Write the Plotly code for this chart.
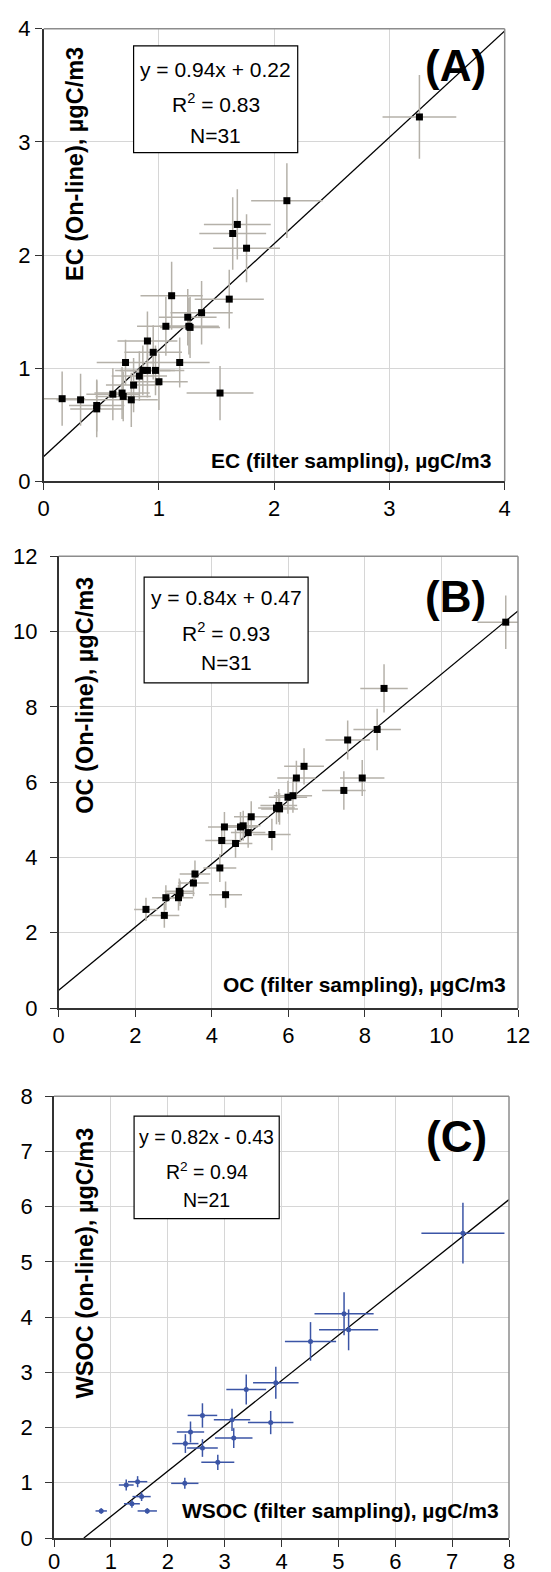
import plotly.graph_objects as go

# panel A : EC
ec_filter = [3.26, 2.11, 1.68, 1.64, 1.76, 1.11, 1.61, 1.37, 1.25, 1.06, 1.27, 0.90, 0.95, 0.71, 1.18, 0.86,
             0.90, 0.97, 0.83, 1.00, 0.78, 1.53, 0.60, 0.68, 0.69, 0.76, 0.16, 0.32, 0.46, 0.46, 1.26]
ec_online = [3.22, 2.48, 2.27, 2.19, 2.06, 1.64, 1.61, 1.49, 1.45, 1.37, 1.36, 1.24, 1.14, 1.05, 1.05, 0.98,
             0.98, 0.98, 0.93, 0.88, 0.85, 0.78, 0.77, 0.78, 0.75, 0.72, 0.73, 0.72, 0.67, 0.64, 1.37]
ec_filter_err = [0.32, 0.31, 0.29, 0.29, 0.29, 0.27, 0.30, 0.27, 0.25, 0.25, 0.26, 0.26, 0.25, 0.25, 0.26, 0.24,
                 0.24, 0.25, 0.24, 0.25, 0.24, 0.29, 0.23, 0.24, 0.24, 0.23, 0.20, 0.21, 0.24, 0.23, 0.26]
ec_online_err = [0.37, 0.33, 0.31, 0.32, 0.30, 0.30, 0.26, 0.28, 0.25, 0.26, 0.27, 0.26, 0.24, 0.20, 0.22, 0.22,
                 0.24, 0.22, 0.22, 0.25, 0.24, 0.24, 0.23, 0.23, 0.22, 0.24, 0.24, 0.23, 0.23, 0.25, 0.25]

# panel B : OC
oc_filter = [11.68, 8.50, 8.32, 7.55, 6.41, 6.21, 7.93, 7.45, 6.12, 5.99, 5.75, 5.69, 5.77, 5.03, 4.33, 4.75,
             4.82, 4.26, 4.95, 5.57, 4.62, 4.21, 3.56, 3.52, 4.36, 3.15, 3.17, 3.13, 2.80, 2.28, 2.76]
oc_online = [10.25, 8.49, 7.40, 7.12, 6.42, 6.11, 6.11, 5.78, 5.64, 5.60, 5.38, 5.31, 5.29, 5.08, 4.81, 4.81,
             4.84, 4.45, 4.66, 4.61, 4.37, 3.72, 3.56, 3.32, 3.01, 3.10, 3.05, 2.93, 2.93, 2.62, 2.46]
oc_filter_err = [0.74, 0.62, 0.62, 0.58, 0.52, 0.50, 0.58, 0.57, 0.50, 0.50, 0.48, 0.48, 0.48, 0.45, 0.43, 0.45,
                 0.45, 0.43, 0.45, 0.49, 0.44, 0.43, 0.40, 0.40, 0.43, 0.38, 0.38, 0.38, 0.36, 0.31, 0.39]
oc_online_err = [0.71, 0.64, 0.55, 0.52, 0.48, 0.46, 0.48, 0.51, 0.45, 0.44, 0.44, 0.43, 0.42, 0.41, 0.40, 0.40,
                 0.40, 0.38, 0.40, 0.42, 0.38, 0.37, 0.36, 0.35, 0.35, 0.34, 0.34, 0.34, 0.33, 0.31, 0.33]

# panel C : WSOC
wsoc_filter = [7.19, 5.10, 5.18, 4.51, 3.90, 3.38, 2.61, 3.13, 3.81, 2.40, 3.16, 2.31, 2.61, 2.88, 2.30,
               1.47, 1.27, 1.54, 1.37, 0.83, 1.64]
wsoc_online = [5.52, 4.06, 3.77, 3.56, 2.81, 2.69, 2.22, 2.14, 2.09, 1.92, 1.81, 1.71, 1.63, 1.37, 0.99,
               1.02, 0.96, 0.75, 0.62, 0.49, 0.49]
wsoc_filter_err = [0.73, 0.52, 0.52, 0.45, 0.40, 0.35, 0.26, 0.32, 0.40, 0.24, 0.33, 0.23, 0.27, 0.29, 0.24,
                   0.17, 0.13, 0.16, 0.14, 0.10, 0.17]
wsoc_online_err = [0.55, 0.39, 0.37, 0.35, 0.29, 0.27, 0.22, 0.20, 0.21, 0.19, 0.18, 0.17, 0.16, 0.14, 0.10,
                   0.10, 0.10, 0.08, 0.07, 0.05, 0.05]

# regression lines (slope, intercept) and text
fits = [(0.94, 0.22), (0.84, 0.47), (0.82, -0.43)]
eq_text = ["y = 0.94x + 0.22", "y = 0.84x + 0.47", "y = 0.82x - 0.43"]
r2_text = ["R<sup>2</sup> = 0.83", "R<sup>2</sup> = 0.93", "R<sup>2</sup> = 0.94"]
n_text = ["N=31", "N=31", "N=21"]
labels = ["(A)", "(B)", "(C)"]
xtitles = ["EC (filter sampling), µgC/m3", "OC (filter sampling), µgC/m3", "WSOC (filter sampling), µgC/m3"]
ytitles = ["EC (On-line), µgC/m3", "OC (On-line), µgC/m3", "WSOC (on-line), µgC/m3"]
ranges = [4, 12, 8]
dticks = [1, 2, 1]

W, H = 551, 1572
# plot areas in pixels: left, right, top, bottom
boxes = [(35.7, 496.7, 20.7, 473.3), (50.7, 510.0, 548.3, 1000.0), (46.0, 501.0, 1088.3, 1530.0)]
ystand = [0, 8, 8]
xstand = [0, 0, -4]
box_font = [21, 21, 19.5]

FONT = "Liberation Sans, Arial, sans-serif"
grey_err = "#b5b1a9"
blue = "#3b55a6"

fig = go.Figure()

panels = [
    (ec_filter, ec_online, ec_filter_err, ec_online_err, "black", grey_err, "square", 7),
    (oc_filter, oc_online, oc_filter_err, oc_online_err, "black", grey_err, "square", 7),
    (wsoc_filter, wsoc_online, wsoc_filter_err, wsoc_online_err, blue, blue, "circle", 5),
]

for i, (xs, ys, xe, ye, mcol, ecol, sym, msize) in enumerate(panels):
    n = "" if i == 0 else str(i + 1)
    xa, ya = "x" + n, "y" + n
    slope, icpt = fits[i]
    x0 = max(0, -icpt / slope)
    x1 = ranges[i]
    fig.add_trace(go.Scatter(x=[x0, x1], y=[slope * x0 + icpt, slope * x1 + icpt], mode="lines",
                             line=dict(color="black", width=1.3), xaxis=xa, yaxis=ya, showlegend=False,
                             cliponaxis=True))
    fig.add_trace(go.Scatter(x=xs, y=ys, mode="markers",
                             marker=dict(symbol=sym, size=msize, color=mcol),
                             error_x=dict(type="data", array=xe, color=ecol, thickness=1.5, width=0),
                             error_y=dict(type="data", array=ye, color=ecol, thickness=1.5, width=0),
                             xaxis=xa, yaxis=ya, showlegend=False, cliponaxis=False))

    l, r, t, b = boxes[i]
    axis_common = dict(showgrid=True, gridcolor="#d6d6d6", gridwidth=1, zeroline=False,
                       showline=True, linecolor="#333333", linewidth=1.5, ticks="outside",
                       ticklen=7, tickcolor="#333333", tickwidth=1.2, automargin=False,
                       tickfont=dict(family=FONT, size=22, color="black"),
                       range=[0, ranges[i]], dtick=dticks[i], tick0=0, fixedrange=True)
    fig.layout["xaxis" + n] = dict(axis_common, domain=[l / W, r / W], anchor=ya,
                                   ticklabelstandoff=xstand[i])
    fig.layout["yaxis" + n] = dict(axis_common, domain=[1 - b / H, 1 - t / H], anchor=xa,
                                   ticklabelstandoff=ystand[i])

    xd, yd = xa + " domain", ya + " domain"
    # grey frame on top and right
    fig.add_shape(type="line", xref=xd, yref=yd, x0=0, x1=1, y0=1, y1=1,
                  line=dict(color="#8c8c8c", width=1.5))
    fig.add_shape(type="line", xref=xd, yref=yd, x0=1, x1=1, y0=0, y1=1,
                  line=dict(color="#8c8c8c", width=1.5))

    # equation box
    bx = [(0.195, 0.551, 0.726, 0.962), (0.186, 0.543, 0.720, 0.954), (0.176, 0.495, 0.723, 0.955)][i]
    fig.add_shape(type="rect", xref=xd, yref=yd, x0=bx[0], x1=bx[1], y0=bx[2], y1=bx[3],
                  line=dict(color="black", width=1.2), fillcolor="white", layer="above")
    cx = (bx[0] + bx[1]) / 2
    ly = [(0.909, 0.836, 0.765), (0.908, 0.832, 0.764), (0.907, 0.832, 0.766)][i]
    for txt, yy in zip([eq_text[i], r2_text[i], n_text[i]], ly):
        fig.add_annotation(text=txt, xref=xd, yref=yd, x=cx, y=yy, showarrow=False,
                           xanchor="center", yanchor="middle",
                           font=dict(family=FONT, size=box_font[i], color="black"))

    # panel label
    lab = [(0.894, 0.918), (0.865, 0.912), (0.884, 0.910)][i]
    fig.add_annotation(text="<b>%s</b>" % labels[i], xref=xd, yref=yd, x=lab[0], y=lab[1],
                       showarrow=False, xanchor="center", yanchor="middle",
                       font=dict(family=FONT, size=44, color="black"))

    # axis titles inside the plot
    xt = [(0.975, 0.047), (0.978, 0.051), (0.982, 0.062)][i]
    fig.add_annotation(text="<b>%s</b>" % xtitles[i], xref=xd, yref=yd, x=xt[0], y=xt[1],
                       showarrow=False, xanchor="right", yanchor="middle",
                       font=dict(family=FONT, size=21, color="black"))
    yt = [(0.068, 0.964), (0.058, 0.959), (0.068, 0.935)][i]
    fig.add_annotation(text="<b>%s</b>" % ytitles[i], xref=xd, yref=yd, x=yt[0], y=yt[1],
                       showarrow=False, xanchor="center", yanchor="top", textangle=-90,
                       font=dict(family=FONT, size=23.5, color="black"))

fig.update_layout(width=W, height=H, margin=dict(l=0, r=0, t=0, b=0),
                  paper_bgcolor="white", plot_bgcolor="white", showlegend=False)

fig.write_html("out.html")
